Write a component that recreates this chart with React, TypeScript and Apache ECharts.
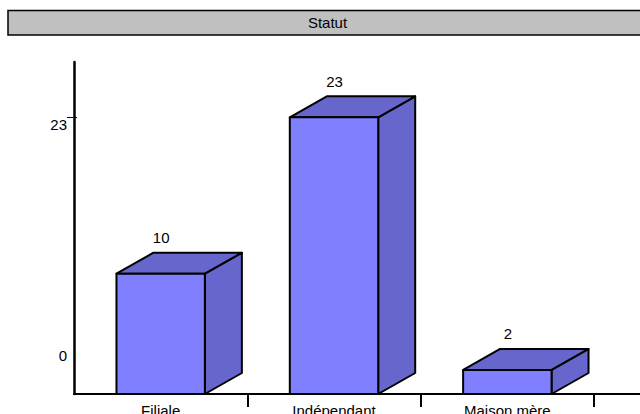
import React, { useEffect, useRef } from "react";
import * as echarts from "echarts";

const categories = ["Filiale", "Indépendant", "Maison mère"];
const values = [10, 23, 2];
const yTickValues = [23];
const yLabelValues = [0, 23];
const titleText = "Statut";

const FONT = "'Liberation Sans', Arial, sans-serif";
const FS = 15;
const FRONT = "#8080ff";
const DARK = "#6666cc";
const DX = 37;
const DY = -21;

export default function App() {
  const ref = useRef<HTMLDivElement>(null);
  useEffect(() => {
    if (!ref.current) return;
    const chart = echarts.init(ref.current, null, { renderer: "svg" });
    const option: any = {
      animation: false,
      backgroundColor: "#ffffff",
      graphic: [
        {
          type: "rect",
          shape: { x: 8, y: 10.5, width: 700, height: 24.5 },
          style: { fill: "#c0c0c0", stroke: "#000", lineWidth: 1.5 },
          z: 10,
        },
        {
          type: "text",
          x: 327.5,
          y: 22,
          style: {
            text: titleText,
            fill: "#000",
            font: `${FS}px ${FONT}`,
            align: "center",
            verticalAlign: "middle",
          },
          z: 11,
        },
        {
          type: "line",
          shape: { x1: 594, y1: 394, x2: 640, y2: 394 },
          style: { stroke: "#000", lineWidth: 2 },
          z: 1,
        },
      ],
      grid: {
        left: 74,
        top: 62,
        width: 520,
        height: 332,
        containLabel: false,
        outerBoundsMode: "none",
      },
      xAxis: {
        type: "category",
        data: categories,
        boundaryGap: true,
        axisLine: { lineStyle: { color: "#000", width: 2 } },
        axisTick: {
          show: true,
          length: 13,
          lineStyle: { color: "#000", width: 2 },
          interval: (index: number) => index !== 0,
          alignWithLabel: false,
        },
        axisLabel: {
          color: "#000",
          fontFamily: FONT,
          fontSize: FS,
          margin: 9,
          interval: 0,
          hideOverlap: false,
        },
        splitLine: { show: false },
      },
      yAxis: [
        {
          type: "value",
          min: 0,
          max: 27.6,
          interval: 23,
          axisLine: { show: true, lineStyle: { color: "#000", width: 2.5 } },
          axisTick: {
            show: true,
            length: 7,
            customValues: yTickValues,
            lineStyle: { color: "#000", width: 1 },
          },
          axisLabel: {
            color: "#000",
            fontFamily: FONT,
            fontSize: FS,
            margin: 7,
            customValues: yLabelValues,
            formatter: (v: number) => (v === 0 ? `{lo|${v}}` : `{hi|${v}}`),
            rich: {
              lo: { padding: [0, 0, 78, 0], fontFamily: FONT, fontSize: FS, color: "#000" },
              hi: { padding: [15, 0, 0, 0], fontFamily: FONT, fontSize: FS, color: "#000" },
            },
          },
          splitLine: { show: false },
        },
        {
          type: "value",
          min: 0,
          max: 27.6,
          interval: 23,
          position: "left",
          axisLine: { show: false },
          axisTick: {
            show: true,
            inside: true,
            length: 3,
            customValues: yTickValues,
            lineStyle: { color: "#000", width: 1 },
          },
          axisLabel: { show: false },
          splitLine: { show: false },
        },
      ],
      series: [
        {
          type: "custom",
          clip: false,
          data: values.map((v, i) => [i, v]),
          renderItem: (params: any, api: any) => {
            const i = api.value(0);
            const v = api.value(1);
            const top = api.coord([i, v]);
            const base = api.coord([i, 0]);
            const band = api.size([1, 0])[0];
            const w = band * 0.51;
            const x0 = top[0] - w / 2;
            const x1 = top[0] + w / 2;
            const yt = top[1];
            const yb = base[1];
            const stroke = { stroke: "#000", lineWidth: 2, lineJoin: "round" };
            return {
              type: "group",
              children: [
                {
                  type: "polygon",
                  shape: { points: [[x1, yt], [x1 + DX, yt + DY], [x1 + DX, yb + DY], [x1, yb]] },
                  style: { fill: DARK, ...stroke },
                },
                {
                  type: "polygon",
                  shape: { points: [[x0, yt], [x0 + DX, yt + DY], [x1 + DX, yt + DY], [x1, yt]] },
                  style: { fill: DARK, ...stroke },
                },
                {
                  type: "polygon",
                  shape: { points: [[x0, yt], [x1, yt], [x1, yb], [x0, yb]] },
                  style: { fill: FRONT, ...stroke },
                },
                {
                  type: "text",
                  x: top[0] + 0.5,
                  y: yt - 36,
                  style: {
                    text: String(v),
                    fill: "#000",
                    font: `${FS}px ${FONT}`,
                    align: "center",
                    verticalAlign: "middle",
                  },
                },
              ],
            };
          },
        },
      ],
    };
    chart.setOption(option);
    return () => chart.dispose();
  }, []);
  return <div ref={ref} style={{ width: 640, height: 414, position: "absolute", left: 0, top: 0 }} />;
}
